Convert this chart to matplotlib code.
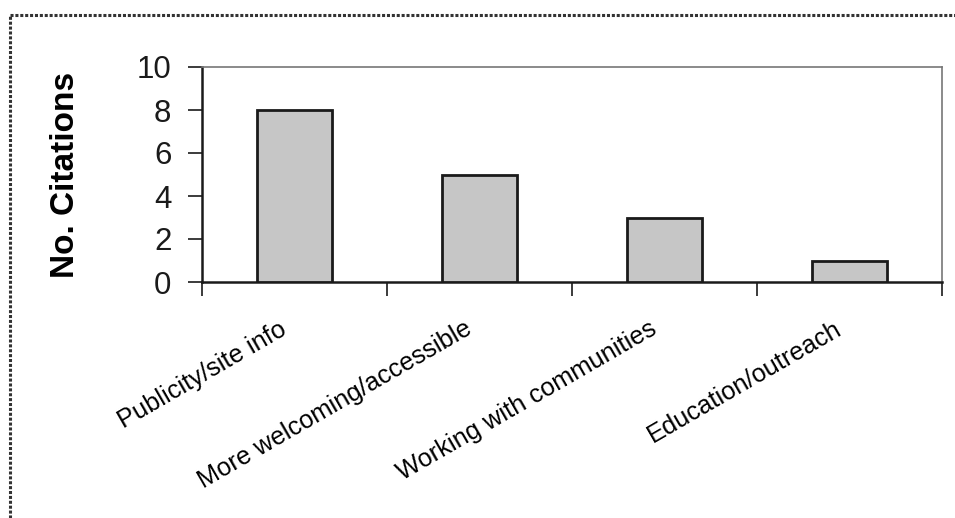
import matplotlib
matplotlib.use("Agg")
import matplotlib.pyplot as plt
import matplotlib.transforms as mtransforms
from matplotlib.lines import Line2D
import numpy as np

categories = ["Publicity/site info", "More welcoming/accessible",
              "Working with communities", "Education/outreach"]
citations = [8, 5, 3, 1]
y_ticks = [0, 2, 4, 6, 8, 10]

plt.rcParams['font.family'] = ['Liberation Sans', 'DejaVu Sans']

fig = plt.figure(figsize=(9.55, 5.18), dpi=100)
ax = fig.add_axes([202/955, 1-282/518, (942-202)/955, (282-67)/518])

x = np.arange(len(categories))
ax.bar(x, citations, width=0.41, color='#c6c6c6', edgecolor='#1a1a1a',
       linewidth=2, zorder=3)

ax.set_xlim(-0.5, len(categories) - 0.5)
ax.set_ylim(0, 10)
ax.set_yticks(y_ticks)
ax.set_yticklabels([str(t) for t in y_ticks], fontsize=22.5)
ax.tick_params(axis='y', direction='out', length=10, width=1.2, pad=12,
               colors='#1a1a1a')

# category labels at centers, boundary tick marks as minor ticks
ax.set_xticks(x)
ax.set_xticklabels(categories, fontsize=18.3, rotation=30, ha='right',
                   va='top', rotation_mode='anchor')
ax.tick_params(axis='x', which='major', length=0, pad=25)
ax.set_xticks(np.arange(-0.5, len(categories)), minor=True)
ax.tick_params(axis='x', which='minor', direction='out', length=10,
               width=1.2, colors='#1a1a1a')
offset = mtransforms.ScaledTranslation(-16/100, 0, fig.dpi_scale_trans)
for lbl in ax.get_xticklabels():
    lbl.set_transform(lbl.get_transform() + offset)

for s in ['left', 'bottom']:
    ax.spines[s].set_color('#1a1a1a')
    ax.spines[s].set_linewidth(1.8)
for s in ['top', 'right']:
    ax.spines[s].set_color('#777777')
    ax.spines[s].set_linestyle((0, (1, 1)))
    ax.spines[s].set_linewidth(1.2)

ax.set_ylabel("No. Citations", fontsize=24, fontweight='bold', va='center')
ax.yaxis.set_label_coords((65 - 202) / 740, 0.5)

# outer chart frame (partially visible in the scan)
xl = 10/955
yt = 1 - 15/518
fig.add_artist(Line2D([xl, xl], [0, yt], transform=fig.transFigure,
                      color='#333333', linewidth=2.2, linestyle=(0, (1, 0.6))))
fig.add_artist(Line2D([xl, 1], [yt, yt], transform=fig.transFigure,
                      color='#333333', linewidth=2.2, linestyle=(0, (1, 0.6))))

fig.savefig("out.png", dpi=100)
